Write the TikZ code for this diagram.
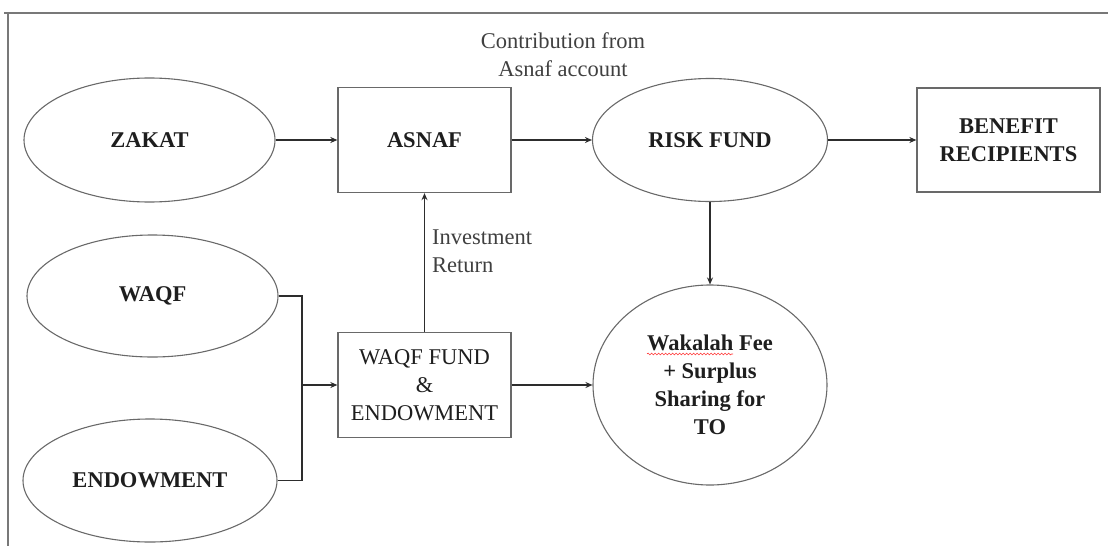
\documentclass[tikz,border=0pt]{standalone}
\usepackage{fontspec}
\setmainfont{Liberation Serif}
\usetikzlibrary{arrows.meta,shapes.geometric,decorations.pathmorphing}
\definecolor{framegray}{RGB}{120,120,120}
\definecolor{shapegray}{RGB}{105,105,105}
\definecolor{linegray}{RGB}{45,45,45}
\definecolor{inkgray}{RGB}{30,30,30}
\begin{document}
\begin{tikzpicture}[x=1pt,y=-1pt,
  every node/.style={font=\fontsize{22.5}{28}\selectfont, text=inkgray, inner sep=0pt},
  oval/.style={ellipse, draw=shapegray, line width=1.1pt, font=\fontsize{22.5}{28}\selectfont\bfseries},
  boxnode/.style={rectangle, draw=shapegray, line width=1.3pt, align=center},
  flow/.style={draw=linegray, line width=1.6pt, -{Stealth[length=7pt,width=6pt]}},
  joint/.style={draw=linegray, line width=1.6pt},
  note/.style={align=left, text=inkgray!85}
]
\useasboundingbox (0,0) rectangle (1108,546);

% outer frame
\draw[framegray, line width=1.6pt] (4,13) -- (1108,13);
\draw[framegray, line width=1.6pt] (8,13) -- (8,546);

% sources
\node[oval, minimum width=251pt, minimum height=124pt] (zakat) at (149.5,140) {ZAKAT};
\node[oval, minimum width=251pt, minimum height=122pt] (waqf) at (152.5,296) {WAQF};
\node[oval, minimum width=254pt, minimum height=123pt] (endow) at (150,480.5) {ENDOWMENT};

% funds
\node[boxnode, minimum width=173pt, minimum height=105pt, font=\fontsize{22.5}{28}\selectfont\bfseries] (asnaf) at (424.5,140) {ASNAF};
\node[boxnode, minimum width=173pt, minimum height=105pt] (fund) at (424.5,385) {WAQF FUND\\\&\\ENDOWMENT};
\node[oval, minimum width=235pt, minimum height=123pt] (risk) at (710,140) {RISK FUND};
\node[oval, minimum width=234pt, minimum height=200pt, align=center] (wak) at (710,385) {Wakalah Fee\\+ Surplus\\Sharing for\\TO};
\node[boxnode, minimum width=183pt, minimum height=104pt, font=\fontsize{22.5}{28}\selectfont\bfseries] (benefit) at (1008.5,140) {BENEFIT\\RECIPIENTS};

% spell-check underline under the first word
\draw[red!80, line width=0.6pt, decorate, decoration={snake, amplitude=0.9pt, segment length=3.5pt}] (647,354) -- (733,354);

% labels
\node[align=center, text=inkgray!85] (contrib) at (563,55) {Contribution from\\Asnaf account};
\node[note, anchor=west] (invest) at (432,251) {Investment\\Return};

% connectors
\coordinate (j) at (302,385);
\draw[flow] (zakat.east) -- (asnaf.west);
\draw[flow] (asnaf.east) -- (risk.west);
\draw[flow] (risk.east) -- (benefit.west);
\draw[flow] (risk.south) -- (wak.north);
\draw[flow] (fund.north) -- (asnaf.south);
\draw[flow] (fund.east) -- (wak.west);
\draw[joint] (waqf.east) -| (j);
\draw[joint] (endow.east) -| (j);
\draw[flow] (j) -- (fund.west);
\end{tikzpicture}
\end{document}
